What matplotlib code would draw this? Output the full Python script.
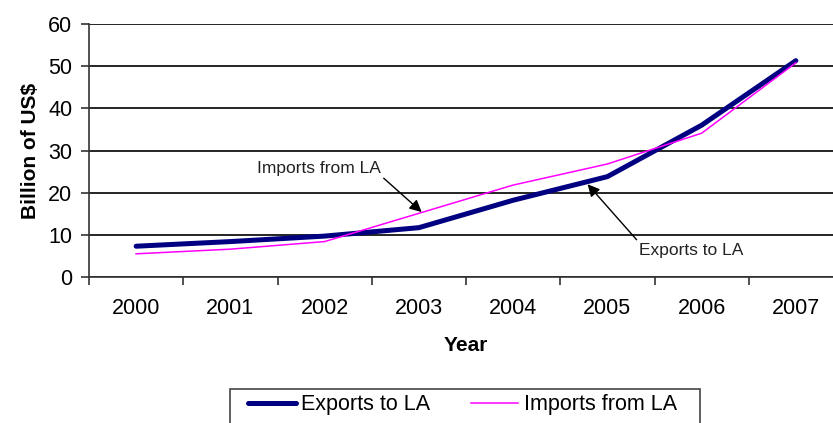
import matplotlib.pyplot as plt
from matplotlib.patches import Rectangle
import numpy as np

years = ['2000', '2001', '2002', '2003', '2004', '2005', '2006', '2007']
exports = [7.3, 8.4, 9.7, 11.7, 18.2, 23.8, 36.0, 51.3]
imports = [5.5, 6.6, 8.4, 15.1, 21.8, 26.8, 34.1, 50.8]

plt.rcParams['font.family'] = ['Liberation Sans', 'DejaVu Sans']

W, H = 833, 423
fig = plt.figure(figsize=(W / 100, H / 100), dpi=100)
ax = fig.add_axes([89 / W, 1 - 277 / H, 754 / W, 253 / H])

x = np.arange(len(years))
ax.plot(x, exports, color='#000080', lw=3.6, label='Exports to LA', solid_capstyle='round')
ax.plot(x, imports, color='#ff00ff', lw=1.1, label='Imports from LA')

# axes and grid
ax.set_xlim(-0.5, len(years) - 0.5)
ax.set_ylim(0, 60)
ax.set_yticks(range(0, 61, 10))
ax.yaxis.grid(True, color='black', lw=1.2)
ax.set_axisbelow(True)
ax.set_xticks(x)
ax.set_xticklabels(years)
ax.set_xticks(np.arange(-0.5, len(years)), minor=True)
ax.tick_params(axis='x', which='major', length=0, labelsize=15.5, pad=15)
ax.tick_params(axis='x', which='minor', length=6, width=1.2, color='#333333')
ax.tick_params(axis='y', length=6, width=1.2, color='#333333', labelsize=15.5, pad=6)
for s in ['top', 'right']:
    ax.spines[s].set_visible(False)
for s in ['left', 'bottom']:
    ax.spines[s].set_color('#333333')
    ax.spines[s].set_linewidth(1.2)

ax.set_xlabel('Year', fontsize=15, fontweight='bold', labelpad=12)
ax.set_ylabel('Billion of US$', fontsize=15, fontweight='bold', labelpad=6)

# annotations
ax.annotate('Imports from LA', xy=(3.03, 15.4), xytext=(1.94, 25.8),
            fontsize=12.5, color='#222222', ha='center', va='center',
            arrowprops=dict(arrowstyle='-|>', color='black', lw=1,
                            mutation_scale=18, shrinkA=0, shrinkB=0,
                            relpos=(1.0, 0.0)))
ax.annotate('Exports to LA', xy=(4.79, 22.0), xytext=(5.89, 6.4),
            fontsize=12.5, color='#222222', ha='center', va='center',
            arrowprops=dict(arrowstyle='-|>', color='black', lw=1,
                            mutation_scale=18, shrinkA=0, shrinkB=0,
                            relpos=(0.0, 1.0)))

# legend box runs off the bottom of the picture like the original
fig.add_artist(Rectangle((230 / W, 1 - 435 / H), 470 / W, 46 / H,
                         transform=fig.transFigure, fill=False,
                         edgecolor='#444444', lw=1.2))
fig.legend(loc='upper left', bbox_to_anchor=(244 / W, 1 - 390 / H),
           ncol=2, fontsize=15.5, frameon=False,
           handlelength=2.2, columnspacing=1.9,
           borderpad=0.2, handletextpad=0.25, borderaxespad=0)

fig.savefig('out.png', dpi=100)
